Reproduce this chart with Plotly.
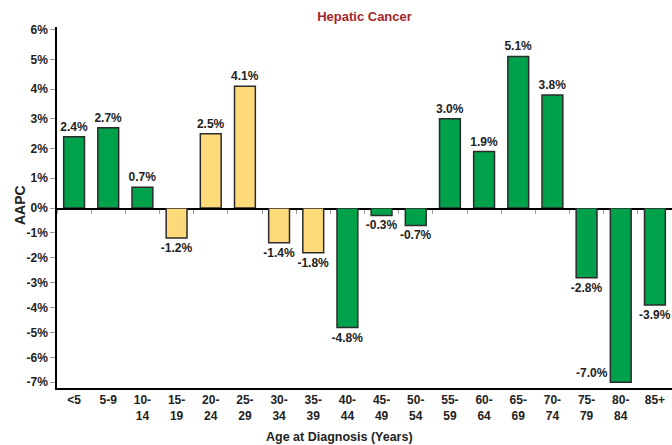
import plotly.graph_objects as go

# ---------------- data ----------------
categories = ["<5", "5-9", "10-14", "15-19", "20-24", "25-29", "30-34", "35-39", "40-44",
              "45-49", "50-54", "55-59", "60-64", "65-69", "70-74", "75-79", "80-84", "85+"]
tick_labels = ["<5", "5-9", "10-<br>14", "15-<br>19", "20-<br>24", "25-<br>29", "30-<br>34",
               "35-<br>39", "40-<br>44", "45-<br>49", "50-<br>54", "55-<br>59", "60-<br>64",
               "65-<br>69", "70-<br>74", "75-<br>79", "80-<br>84", "85+"]
aapc = [2.4, 2.7, 0.7, -1.2, 2.5, 4.1, -1.4, -1.8, -4.8, -0.3, -0.7, 3.0, 1.9, 5.1, 3.8, -2.8, -7.0, -3.9]
# bar group (green vs yellow)
group = ["A", "A", "A", "B", "B", "B", "B", "B", "A", "A", "A", "A", "A", "A", "A", "A", "A", "A"]
pos_ticks = [0, 1, 2, 3, 4, 5, 6]
neg_ticks = [-1, -2, -3, -4, -5, -6, -7]

# ---------------- styling ----------------
FONT = "Liberation Sans, Arial, sans-serif"
GREEN = "#00A14B"
YELLOW = "#FDD97A"
EDGE = "#2b2b2b"
TXT = "#222222"
colors = [GREEN if g == "A" else YELLOW for g in group]

TOP_MAX = 6.09
BOT_MIN = -7.23
SPLIT = 0.4986

pos = [v if v >= 0 else None for v in aapc]
neg = [v if v < 0 else None for v in aapc]
neg_text_pos = ["none" if (v < 0 and v - 0.6 < BOT_MIN) else "outside" for v in aapc]

fig = go.Figure()
bar_font = dict(family=FONT, size=12, color=TXT, weight="bold")
fig.add_trace(go.Bar(
    x=categories, y=pos, xaxis="x", yaxis="y",
    marker=dict(color=colors, line=dict(color=EDGE, width=1.5)),
    texttemplate="%{y:.1f}%", textposition="outside", cliponaxis=False,
    constraintext="none", textfont=bar_font, showlegend=False, hoverinfo="skip"))
fig.add_trace(go.Bar(
    x=categories, y=neg, xaxis="x2", yaxis="y2",
    marker=dict(color=colors, line=dict(color=EDGE, width=1.5)),
    texttemplate="%{y:.1f}%", textposition=neg_text_pos, cliponaxis=False,
    constraintext="none", textfont=bar_font, showlegend=False, hoverinfo="skip"))

annotations = []
for c, v, tp in zip(categories, aapc, neg_text_pos):
    if v < 0 and tp == "none":
        annotations.append(dict(x=c, y=v, xref="x2", yref="y2", text=f"{v:.1f}%",
                                showarrow=False, xanchor="right", yanchor="bottom",
                                xshift=-11, yshift=0, font=bar_font))

axis_font = dict(family=FONT, size=12, color=TXT, weight="bold")
annotations.append(dict(x=-0.06, y=0.507, xref="paper", yref="paper", text="AAPC",
                        textangle=-90, showarrow=False, xanchor="center", yanchor="middle",
                        font=dict(family=FONT, size=14, color=TXT, weight="bold")))
annotations.append(dict(x=0.46, y=-0.135, xref="paper", yref="paper",
                        text="Age at Diagnosis (Years)", showarrow=False,
                        xanchor="center", yanchor="middle",
                        font=dict(family=FONT, size=12.5, color=TXT, weight="bold")))

fig.update_layout(
    width=672, height=445,
    margin=dict(l=57, r=0, t=27, b=57),
    paper_bgcolor="white", plot_bgcolor="white",
    bargap=0.39,
    title=dict(text="Hepatic Cancer", x=0.5, xref="paper", xanchor="center",
               y=1 - 16 / 445, yref="container", yanchor="middle",
               font=dict(family=FONT, size=13, color="#A3262A", weight="bold")),
    xaxis=dict(domain=[0, 1], anchor="y", type="category", showline=True,
               linecolor="black", linewidth=1.5, ticks="outside", tickson="boundaries",
               ticklen=4, tickcolor="#9a9a9a", showticklabels=False, showgrid=False,
               zeroline=False),
    yaxis=dict(domain=[SPLIT, 1], anchor="x", range=[0, TOP_MAX],
               tickvals=pos_ticks, ticktext=[f"{t}%" for t in pos_ticks],
               showline=True, linecolor="black", linewidth=1.5, ticks="outside",
               ticklen=5, tickcolor="#9a9a9a", showgrid=False, zeroline=False,
               tickfont=axis_font),
    xaxis2=dict(domain=[0, 1], anchor="y2", type="category", matches="x",
                showline=True, linecolor="black", linewidth=1.5, ticks="",
                tickvals=categories, ticktext=tick_labels, showgrid=False,
                zeroline=False, tickfont=axis_font),
    yaxis2=dict(domain=[0, SPLIT], anchor="x2", range=[BOT_MIN, 0],
                tickvals=neg_ticks, ticktext=[f"{t}%" for t in neg_ticks],
                showline=True, linecolor="black", linewidth=1.5, ticks="outside",
                ticklen=5, tickcolor="#9a9a9a", showgrid=False, zeroline=False,
                tickfont=axis_font),
    annotations=annotations,
)

fig.write_html("out.html", config={"displayModeBar": False},
               post_script="document.body.style.margin='0';document.body.style.padding='0';document.body.style.overflow='hidden';")
